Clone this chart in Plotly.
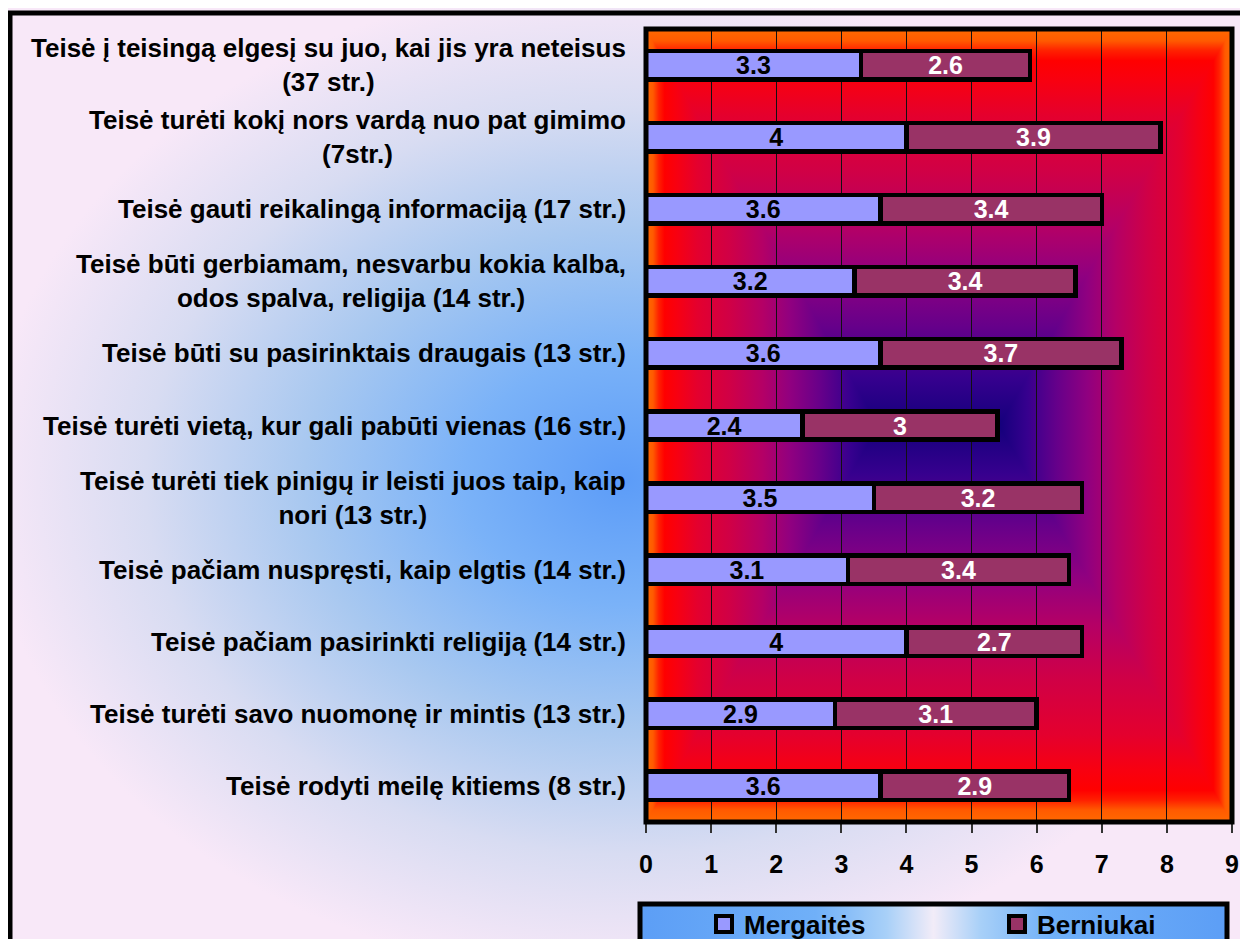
import base64
import plotly.graph_objects as go

# duomenys
kategorijos = [
    "Teisė į teisingą elgesį su juo, kai jis yra neteisus<br>(37 str.)",
    "Teisė turėti kokį nors vardą nuo pat gimimo<br>(7str.)",
    "Teisė gauti reikalingą informaciją (17 str.)",
    "Teisė būti gerbiamam, nesvarbu kokia kalba,<br>odos spalva, religija (14 str.)",
    "Teisė būti su pasirinktais draugais (13 str.)",
    "Teisė turėti vietą, kur gali pabūti vienas (16 str.)",
    "Teisė turėti tiek pinigų ir leisti juos taip, kaip<br>nori (13 str.)",
    "Teisė pačiam nuspręsti, kaip elgtis (14 str.)",
    "Teisė pačiam pasirinkti religiją (14 str.)",
    "Teisė turėti savo nuomonę ir mintis (13 str.)",
    "Teisė rodyti meilę kitiems (8 str.)",
]
mergaites = [3.3, 4, 3.6, 3.2, 3.6, 2.4, 3.5, 3.1, 4, 2.9, 3.6]
berniukai = [2.6, 3.9, 3.4, 3.4, 3.7, 3, 3.2, 3.4, 2.7, 3.1, 2.9]
x_ticks = [0, 1, 2, 3, 4, 5, 6, 7, 8, 9]

FONT = "Liberation Sans, Arial, sans-serif"
# puslapis turi 8px parastes, todel figura 1240x931
W, H = 1240, 931
L, R, T, B = 638, 1224, 21, 814   # braizymo sritis, px


def px_x(p):
    return (p - L) / (R - L)


def px_y(p):
    return (B - p) / (B - T)


def svg_uri(svg):
    return "data:image/svg+xml;base64," + base64.b64encode(svg.encode("utf-8")).decode()


def stops(lst):
    return "".join('<stop offset="%s" stop-color="%s"/>' % (o, c) for o, c in lst)


# fonas - radialinis gradientas
fig_bg = (
    '<svg xmlns="http://www.w3.org/2000/svg" width="%d" height="%d" viewBox="0 0 %d %d" preserveAspectRatio="none">'
    '<defs><radialGradient id="g" gradientUnits="userSpaceOnUse" cx="617" cy="472" r="640" '
    'gradientTransform="translate(617 472) scale(1 0.78) translate(-617 -472)">%s</radialGradient></defs>'
    '<rect width="%d" height="%d" fill="url(#g)"/></svg>'
) % (W, H, W, H, stops([(0, "#5C9CF8"), (0.25, "#7AB2F8"), (0.5, "#A8C8F0"),
                        (0.75, "#D8DCF2"), (1, "#F8E8F8")]), W, H)

# braizymo srities gradientas (nuo centro)
pw, ph = R - L, B - T
cx, cy, b = pw / 2, ph / 2, 60
plot_stops = stops([(0, "#FF6A00"), (0.03, "#FF5A00"), (0.055, "#FF2000"), (0.08, "#FF0000"),
                    (0.13, "#F80010"), (0.22, "#E4002E"), (0.36, "#D00046"), (0.5, "#B40066"),
                    (0.62, "#900080"), (0.75, "#66008A"), (0.88, "#36008E"), (1, "#14007C")])
ax_, bx_ = cx - b, cx + b


def lin(gid, x1, y1, x2, y2):
    return ('<linearGradient id="%s" gradientUnits="userSpaceOnUse" x1="%s" y1="%s" x2="%s" y2="%s">%s</linearGradient>'
            % (gid, x1, y1, x2, y2, plot_stops))


plot_bg = (
    '<svg xmlns="http://www.w3.org/2000/svg" width="%d" height="%d" viewBox="0 0 %d %d" preserveAspectRatio="none">'
    '<defs>%s%s%s%s</defs>'
    '<rect width="%d" height="%d" fill="#B40066"/>'
    '<g shape-rendering="crispEdges">'
    '<polygon points="0,0 %s,%s 0,%s" fill="url(#l)"/>'
    '<polygon points="%s,0 %s,%s %s,%s" fill="url(#r)"/>'
    '<polygon points="0,0 %s,0 %s,%s %s,%s" fill="url(#t)"/>'
    '<polygon points="0,%s %s,%s %s,%s %s,%s" fill="url(#b)"/>'
    '</g></svg>'
) % (pw, ph, pw, ph,
     lin("l", 0, cy, ax_, cy), lin("r", pw, cy, bx_, cy),
     lin("t", cx, 0, cx, cy), lin("b", cx, ph, cx, cy),
     pw, ph,
     ax_, cy, ph,
     pw, bx_, cy, pw, ph,
     pw, bx_, cy, ax_, cy,
     ph, pw, ph, bx_, cy, ax_, cy)

# legendos fonas
leg_bg = (
    '<svg xmlns="http://www.w3.org/2000/svg" width="600" height="60" viewBox="0 0 600 60" preserveAspectRatio="none">'
    '<defs><linearGradient id="g" x1="0" y1="0" x2="1" y2="0">%s</linearGradient></defs>'
    '<rect width="600" height="60" fill="url(#g)"/></svg>'
) % stops([(0, "#5C9EF6"), (0.3, "#70B0F8"), (0.42, "#A8D0F8"), (0.5, "#F2ECF8"),
           (0.58, "#A8D0F8"), (0.7, "#70B0F8"), (1, "#5C9EF6")])

spalvos = {"Mergaitės": "#9999FF", "Berniukai": "#993366"}

fig = go.Figure()
fig.add_trace(go.Bar(
    y=kategorijos, x=mergaites, name="Mergaitės", orientation="h", showlegend=False,
    marker=dict(color=spalvos["Mergaitės"], line=dict(color="black", width=4.5)),
    text=["%g" % v for v in mergaites], textposition="inside", insidetextanchor="middle",
    textangle=0, constraintext="none",
    textfont=dict(family=FONT, size=25, color="black", weight="bold"),
))
fig.add_trace(go.Bar(
    y=kategorijos, x=berniukai, name="Berniukai", orientation="h", showlegend=False,
    marker=dict(color=spalvos["Berniukai"], line=dict(color="black", width=4.5)),
    text=["%g" % v for v in berniukai], textposition="inside", insidetextanchor="middle",
    textangle=0, constraintext="none",
    textfont=dict(family=FONT, size=25, color="white", weight="bold"),
))

# legendos irasai (didesni kvadratai, kaip Excel)
for name, leg in [("Mergaitės", "legend"), ("Berniukai", "legend2")]:
    fig.add_trace(go.Scatter(
        x=[None], y=[None], mode="markers", name=name, legend=leg, showlegend=True,
        marker=dict(symbol="square", size=16, color=spalvos[name], line=dict(color="black", width=4)),
    ))

# kategoriju pavadinimai (centruotos eilutes, kaip Excel)
annotations = []
for k in kategorijos:
    annotations.append(dict(
        x=0, xref="paper", y=k, yref="y", xanchor="right", yanchor="middle",
        xshift=-18, align="center", showarrow=False, text=k,
        font=dict(family=FONT, size=26, color="black", weight="bold"),
    ))

leg_font = dict(family=FONT, size=26, color="black", weight="bold")

fig.update_layout(
    width=W, height=H,
    barmode="stack", bargap=0.605,
    paper_bgcolor="#F8E8F8", plot_bgcolor="rgba(0,0,0,0)",
    margin=dict(l=L, r=W - R, t=T, b=H - B, autoexpand=False),
    showlegend=True,
    legend=dict(
        orientation="h", x=px_x(696), xanchor="left", y=px_y(916), yanchor="middle",
        bgcolor="rgba(0,0,0,0)", borderwidth=0, font=leg_font,
    ),
    legend2=dict(
        orientation="h", x=px_x(989), xanchor="left", y=px_y(916), yanchor="middle",
        bgcolor="rgba(0,0,0,0)", borderwidth=0, font=leg_font,
    ),
    xaxis=dict(
        range=[0, 9], tickvals=x_ticks, showgrid=True, gridcolor="#111111", gridwidth=1,
        zeroline=False, showline=False, ticks="outside", ticklen=10, tickcolor="#333333",
        tickwidth=1.5, ticklabelstandoff=10,
        tickfont=dict(family=FONT, size=25, color="black", weight="bold"),
    ),
    yaxis=dict(
        type="category", range=[len(kategorijos) - 0.5, -0.5], showticklabels=False,
        showgrid=False, zeroline=False, showline=False, ticks="",
    ),
    annotations=annotations,
    images=[
        dict(source=svg_uri(fig_bg), xref="paper", yref="paper", x=px_x(0), y=px_y(0),
             sizex=W / (R - L), sizey=H / (B - T), xanchor="left", yanchor="top",
             sizing="stretch", layer="below"),
        dict(source=svg_uri(plot_bg), xref="paper", yref="paper", x=0, y=1, sizex=1, sizey=1,
             xanchor="left", yanchor="top", sizing="stretch", layer="below"),
        dict(source=svg_uri(leg_bg), xref="paper", yref="paper", x=px_x(632), y=px_y(896),
             sizex=(1219 - 632) / (R - L), sizey=60 / (B - T), xanchor="left", yanchor="top",
             sizing="stretch", layer="below"),
    ],
    shapes=[
        dict(type="rect", xref="paper", yref="paper", x0=px_x(2), y0=px_y(5), x1=px_x(1300),
             y1=px_y(1000), line=dict(color="black", width=5), layer="above"),
        dict(type="rect", xref="paper", yref="paper", x0=0, y0=0, x1=1, y1=1,
             line=dict(color="black", width=5), layer="above"),
        dict(type="rect", xref="paper", yref="paper", x0=px_x(632), y0=px_y(896), x1=px_x(1219),
             y1=px_y(1000), line=dict(color="black", width=5), layer="above"),
    ],
)

fig.write_html("out.html")
